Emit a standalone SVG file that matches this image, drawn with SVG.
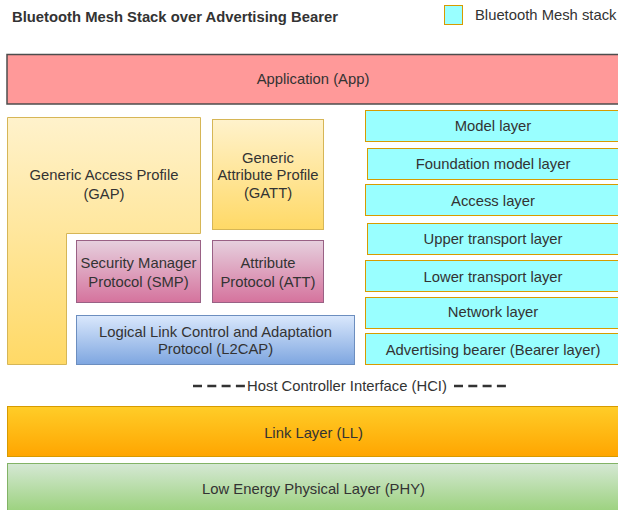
<svg xmlns="http://www.w3.org/2000/svg" width="618" height="510" viewBox="0 0 618 510">
<defs>
<linearGradient id="gYellow" x1="0" y1="0" x2="0" y2="1"><stop offset="0" stop-color="#fff2cc"/><stop offset="1" stop-color="#ffd966"/></linearGradient>
<linearGradient id="gPink" x1="0" y1="0" x2="0" y2="1"><stop offset="0" stop-color="#e6d0de"/><stop offset="1" stop-color="#d5739d"/></linearGradient>
<linearGradient id="gBlue" x1="0" y1="0" x2="0" y2="1"><stop offset="0" stop-color="#dae8fc"/><stop offset="1" stop-color="#7ea6e0"/></linearGradient>
<linearGradient id="gOrange" x1="0" y1="0" x2="0" y2="1"><stop offset="0" stop-color="#ffcd28"/><stop offset="1" stop-color="#ffa500"/></linearGradient>
<linearGradient id="gGreen" x1="0" y1="0" x2="0" y2="1"><stop offset="0" stop-color="#d5e8d4"/><stop offset="1" stop-color="#97d077"/></linearGradient>
</defs>
<style>
text{font-family:"Liberation Sans",Arial,sans-serif;font-size:14.8px;fill:#333;text-anchor:middle}
.title{font-size:14.8px;font-weight:bold;text-anchor:start;fill:#333}
.leg{text-anchor:start;fill:#333}
.yel{fill:url(#gYellow);stroke:#d6b656;stroke-width:1}
.pink{fill:url(#gPink);stroke:#996185;stroke-width:1}
.blue{fill:url(#gBlue);stroke:#6c8ebf;stroke-width:1}
.mesh{fill:#99ffff;stroke:#d79b00;stroke-width:1}
.dash{stroke:#333;stroke-width:2.5;stroke-dasharray:9 5.3;fill:none}
</style>
<text class="title" x="12" y="22">Bluetooth Mesh Stack over Advertising Bearer</text>
<g id="legend">
<rect x="444.5" y="5.5" width="18" height="19" class="mesh"/>
<text class="leg" x="475" y="20">Bluetooth Mesh stack</text>
</g>
<g id="app">
<rect x="7" y="54.5" width="613" height="49.5" fill="#ff9999" stroke="#4d4d4d" stroke-width="1.5"/>
<text x="313" y="84">Application (App)</text>
</g>
<g id="gap">
<path d="M7.5 117.5H200.5V233.5H66.5V364.5H7.5Z" class="yel"/>
<text x="104" y="180">Generic Access Profile</text>
<text x="104" y="199">(GAP)</text>
</g>
<g id="gatt">
<rect x="212.5" y="119.5" width="111" height="110" class="yel"/>
<text x="268" y="163">Generic</text>
<text x="268" y="180">Attribute Profile</text>
<text x="268" y="198">(GATT)</text>
</g>
<g id="smp">
<rect x="76.5" y="240.5" width="124" height="62" class="pink"/>
<text x="138.5" y="268">Security Manager</text>
<text x="138.5" y="287">Protocol (SMP)</text>
</g>
<g id="att">
<rect x="212.5" y="240.5" width="111" height="62" class="pink"/>
<text x="268" y="268">Attribute</text>
<text x="268" y="287">Protocol (ATT)</text>
</g>
<g id="l2cap">
<rect x="76.5" y="315.5" width="278" height="49" class="blue"/>
<text x="215.5" y="337">Logical Link Control and Adaptation</text>
<text x="215.5" y="354">Protocol (L2CAP)</text>
</g>
<g id="model"><rect x="365.5" y="110.5" width="256" height="31" class="mesh"/><text x="493" y="131">Model layer</text></g>
<g id="foundation"><rect x="367.5" y="148.5" width="254" height="31" class="mesh"/><text x="493" y="169">Foundation model layer</text></g>
<g id="access"><rect x="365.5" y="184.5" width="256" height="31" class="mesh"/><text x="493" y="206">Access layer</text></g>
<g id="upper"><rect x="367.5" y="223.5" width="254" height="31" class="mesh"/><text x="493" y="244">Upper transport layer</text></g>
<g id="lower"><rect x="365.5" y="260.5" width="256" height="31" class="mesh"/><text x="493" y="282">Lower transport layer</text></g>
<g id="network"><rect x="365.5" y="297.5" width="256" height="31" class="mesh"/><text x="493" y="317">Network layer</text></g>
<g id="bearer"><rect x="365.5" y="333.5" width="256" height="31" class="mesh"/><text x="493" y="355">Advertising bearer (Bearer layer)</text></g>
<g id="hci">
<line x1="193" y1="386" x2="245" y2="386" class="dash"/>
<text x="347" y="391">Host Controller Interface (HCI)</text>
<line x1="454" y1="386" x2="509" y2="386" class="dash"/>
</g>
<g id="ll">
<rect x="7.5" y="406.5" width="614" height="50" fill="url(#gOrange)" stroke="#d79b00"/>
<text x="313.5" y="438">Link Layer (LL)</text>
</g>
<g id="phy">
<rect x="7.5" y="463.5" width="614" height="52" fill="url(#gGreen)" stroke="#82b366"/>
<text x="313.5" y="494">Low Energy Physical Layer (PHY)</text>
</g>
<g id="connectors"></g>
</svg>
